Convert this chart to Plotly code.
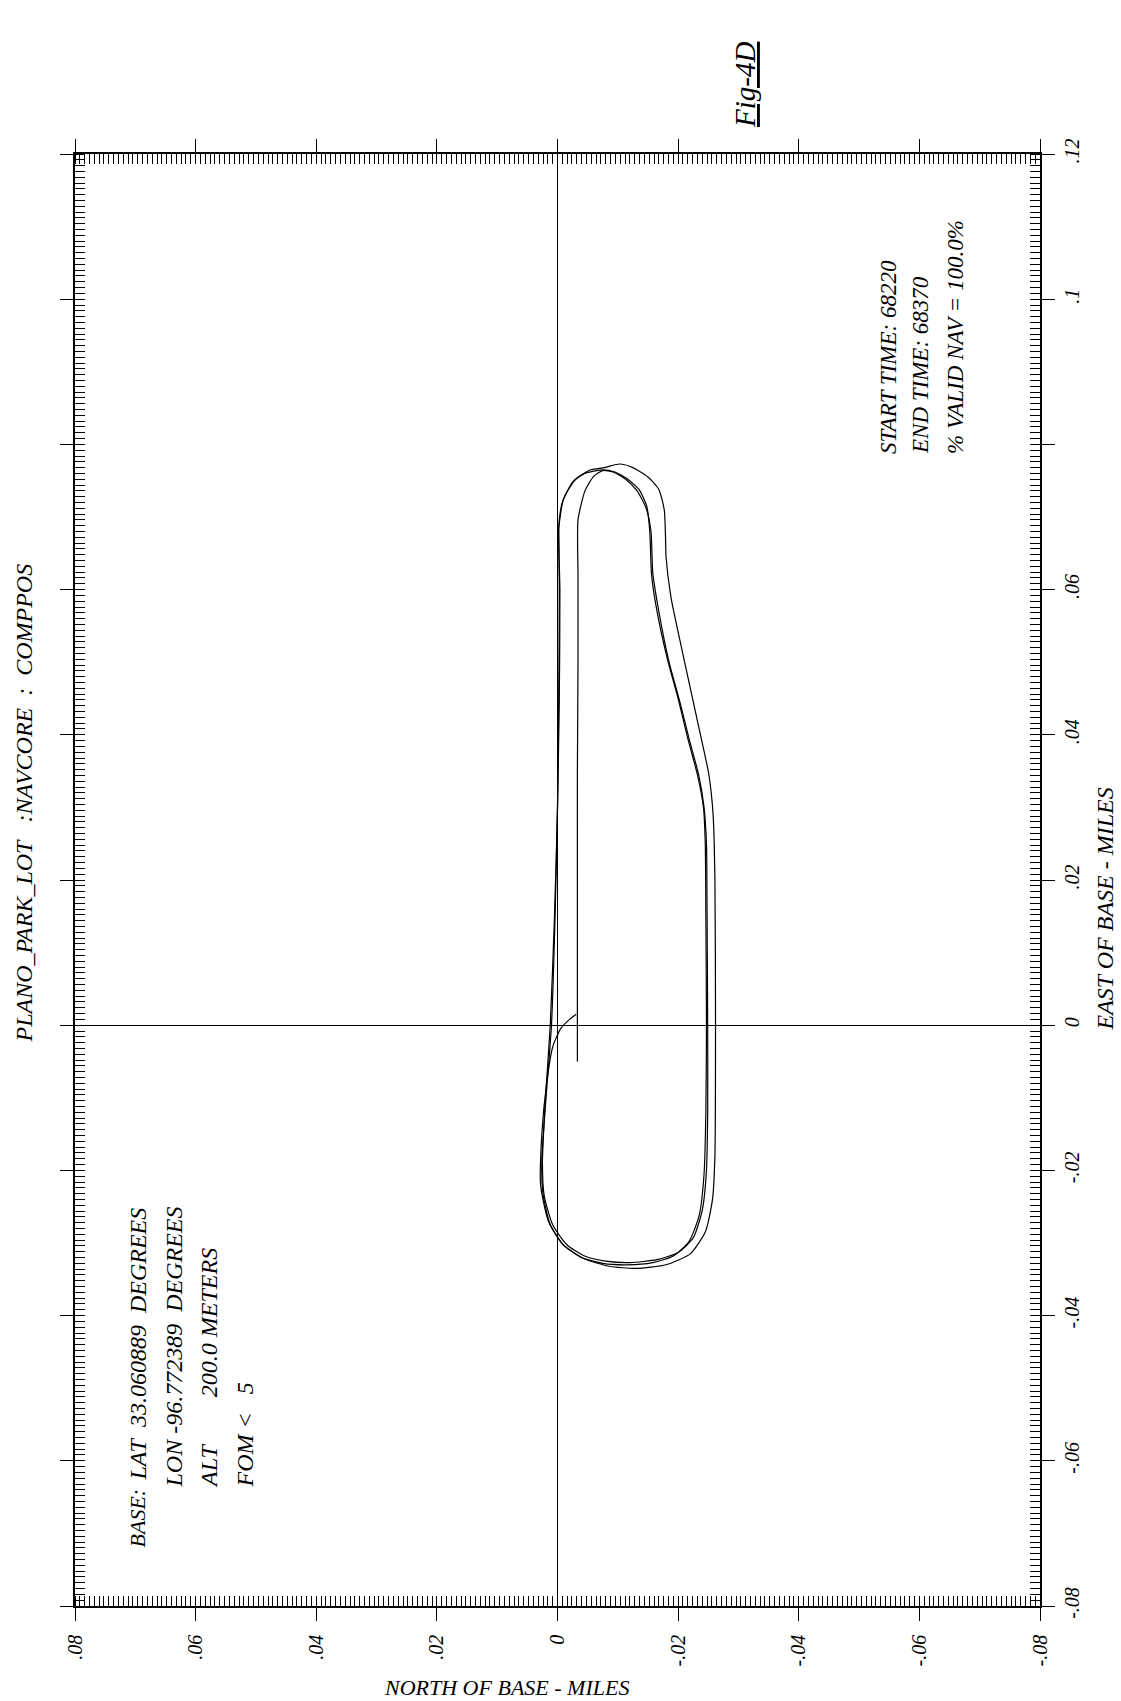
import plotly.graph_objects as go

# ---------------- data (north / east of base, miles) ----------------
LAP1_NORTH = [-0.0033, -0.0033, -0.0033, -0.0033, -0.0034, -0.0034, -0.0034, -0.0046, -0.0060, -0.0075,
              -0.0092, -0.0113, -0.0132, -0.0147, -0.0155, -0.0158, -0.0168, -0.0185, -0.0203, -0.0218,
              -0.0234, -0.0243, -0.0247, -0.0248, -0.0249, -0.0249, -0.0247, -0.0240, -0.0225, -0.0200,
              -0.0165, -0.0120, -0.0080, -0.0045, -0.0015, 0.0008, 0.0022, 0.0025, 0.0020, 0.0012,
              0.0005, 0.0000, -0.0002, -0.0003, -0.0002]
LAP1_EAST = [-0.0050, 0.0050, 0.0200, 0.0350, 0.0500, 0.0620, 0.0696, 0.0737, 0.0756, 0.0764,
             0.0762, 0.0752, 0.0736, 0.0712, 0.0680, 0.0623, 0.0570, 0.0500, 0.0445, 0.0395,
             0.0345, 0.0300, 0.0250, 0.0150, 0.0000, -0.0120, -0.0200, -0.0255, -0.0293, -0.0313,
             -0.0323, -0.0327, -0.0325, -0.0318, -0.0302, -0.0275, -0.0235, -0.0190, -0.0100, 0.0000,
             0.0150, 0.0300, 0.0450, 0.0600, 0.0685]

LAP2_NORTH = [-0.0002, -0.0008, -0.0025, -0.0045, -0.0075, -0.0095, -0.0115, -0.0135, -0.0148, -0.0153,
              -0.0156, -0.0165, -0.0182, -0.0200, -0.0216, -0.0232, -0.0242, -0.0245, -0.0246, -0.0247,
              -0.0246, -0.0243, -0.0235, -0.0218, -0.0192, -0.0158, -0.0115, -0.0075, -0.0040, -0.0010,
              0.0012, 0.0024, 0.0026, 0.0019, 0.0010, 0.0004, 0.0000, -0.0003, -0.0004, -0.0002]
LAP2_EAST = [0.0685, 0.0720, 0.0748, 0.0760, 0.0765, 0.0762, 0.0753, 0.0738, 0.0715, 0.0680,
             0.0620, 0.0570, 0.0505, 0.0450, 0.0395, 0.0345, 0.0300, 0.0250, 0.0150, 0.0000,
             -0.0120, -0.0205, -0.0262, -0.0298, -0.0318, -0.0327, -0.0330, -0.0328, -0.0320, -0.0303,
             -0.0275, -0.0233, -0.0185, -0.0100, 0.0000, 0.0150, 0.0300, 0.0450, 0.0600, 0.0685]

LAP3_NORTH = [-0.0002, -0.0010, -0.0030, -0.0055, -0.0078, -0.0095, -0.0105, -0.0125, -0.0150, -0.0168,
              -0.0177, -0.0179, -0.0180, -0.0188, -0.0203, -0.0220, -0.0237, -0.0251, -0.0258, -0.0261,
              -0.0262, -0.0261, -0.0257, -0.0245, -0.0220, -0.0180, -0.0130, -0.0085, -0.0045, -0.0010,
              0.0015, 0.0028, 0.0026, 0.0018, 0.0008, -0.0005, -0.0020, -0.0031]
LAP3_EAST = [0.0685, 0.0725, 0.0752, 0.0765, 0.0768, 0.0772, 0.0773, 0.0768, 0.0755, 0.0738,
             0.0710, 0.0675, 0.0645, 0.0590, 0.0530, 0.0465, 0.0400, 0.0345, 0.0290, 0.0200,
             0.0000, -0.0180, -0.0240, -0.0285, -0.0315, -0.0330, -0.0335, -0.0332, -0.0322, -0.0303,
             -0.0270, -0.0220, -0.0150, -0.0080, -0.0030, -0.0005, 0.0008, 0.0015]

NORTH_TICKS = [0.08, 0.06, 0.04, 0.02, 0.0, -0.02, -0.04, -0.06, -0.08]
NORTH_LABELS = [".08", ".06", ".04", ".02", "0", "-.02", "-.04", "-.06", "-.08"]
EAST_TICKS = [0.12, 0.10, 0.08, 0.06, 0.04, 0.02, 0.0, -0.02, -0.04, -0.06, -0.08]
EAST_LABELS = [".12", ".1", "", ".06", ".04", ".02", "0", "-.02", "-.04", "-.06", "-.08"]

NB = "\u00a0"
TITLE = "PLANO_PARK_LOT" + NB * 3 + ":NAVCORE" + NB * 2 + ":" + NB * 2 + "COMPPOS"
BASE_LINES = ["LAT" + NB * 2 + "33.060889" + NB * 2 + "DEGREES",
              "LON" + NB + "-96.772389" + NB * 2 + "DEGREES",
              "ALT" + NB * 8 + "200.0" + NB + "METERS",
              "FOM" + NB + "<" + NB * 3 + "5"]
INFO_LINES = ["START TIME: 68220", "END TIME: 68370", "% VALID NAV = 100.0%"]

# ---------------- layout geometry (page pixels) ----------------
W, H = 1121, 1701
L, R, T, B = 75, 1040, 154, 1606
FONT = "Liberation Serif"


def px(x):
    return (x - L) / (R - L)


def py(y):
    return (B - y) / (B - T)


fig = go.Figure()
for n, e in [(LAP1_NORTH, LAP1_EAST), (LAP2_NORTH, LAP2_EAST), (LAP3_NORTH, LAP3_EAST)]:
    fig.add_trace(go.Scatter(x=n, y=e, mode="lines",
                             line=dict(color="black", width=1.2, shape="spline", smoothing=0.6),
                             showlegend=False, hoverinfo="skip"))

axis_common = dict(
    showline=True, linecolor="black", linewidth=1.5, mirror="allticks",
    ticks="outside", ticklen=13, tickwidth=1.2, tickcolor="black",
    showgrid=False, zeroline=True, zerolinecolor="black", zerolinewidth=1,
    tickangle=-90, tickfont=dict(family=FONT, size=20, color="black", style="italic"),
    minor=dict(ticks="inside", dtick=0.0008, ticklen=10, tickwidth=1, tickcolor="black", showgrid=False),
)

fig.update_xaxes(range=[0.08, -0.08], tickmode="array", tickvals=NORTH_TICKS, ticktext=NORTH_LABELS,
                 ticklabelstandoff=6, **axis_common)
fig.update_yaxes(range=[-0.08, 0.12], tickmode="array", tickvals=EAST_TICKS, ticktext=EAST_LABELS,
                 side="right", ticklabelstandoff=0, **axis_common)

anns = []


def txt(text, x, y, size=24, angle=-90, xa="center", ya="bottom"):
    anns.append(dict(text=text, x=px(x), y=py(y), xref="paper", yref="paper", showarrow=False,
                     textangle=angle, xanchor=xa, yanchor=ya,
                     font=dict(family=FONT, size=size, color="black", style="italic")))


txt(TITLE, 23, 562, size=24, ya="top")
txt("BASE:", 137, 1550, size=22)
txt(BASE_LINES[0], 137, 1483)
txt(BASE_LINES[1], 173, 1490)
txt(BASE_LINES[2], 209, 1490)
txt(BASE_LINES[3], 244, 1490)
txt(INFO_LINES[0], 888, 456, size=23)
txt(INFO_LINES[1], 920, 456, size=23)
txt(INFO_LINES[2], 955, 456, size=23)
txt("EAST OF BASE - MILES", 1104, 1033, size=24)
txt("<u>Fig-4D</u>", 745, 130, size=29)
txt("NORTH OF BASE - MILES", 506, 1687, size=22, angle=0, xa="center", ya="middle")

fig.update_layout(
    width=W, height=H, margin=dict(l=L, r=W - R, t=T, b=H - B, pad=0),
    paper_bgcolor="white", plot_bgcolor="white", annotations=anns, showlegend=False,
)

fig.write_html("out.html", config={"displayModeBar": False},
               post_script="document.body.style.margin='0';document.body.style.overflow='hidden';")
